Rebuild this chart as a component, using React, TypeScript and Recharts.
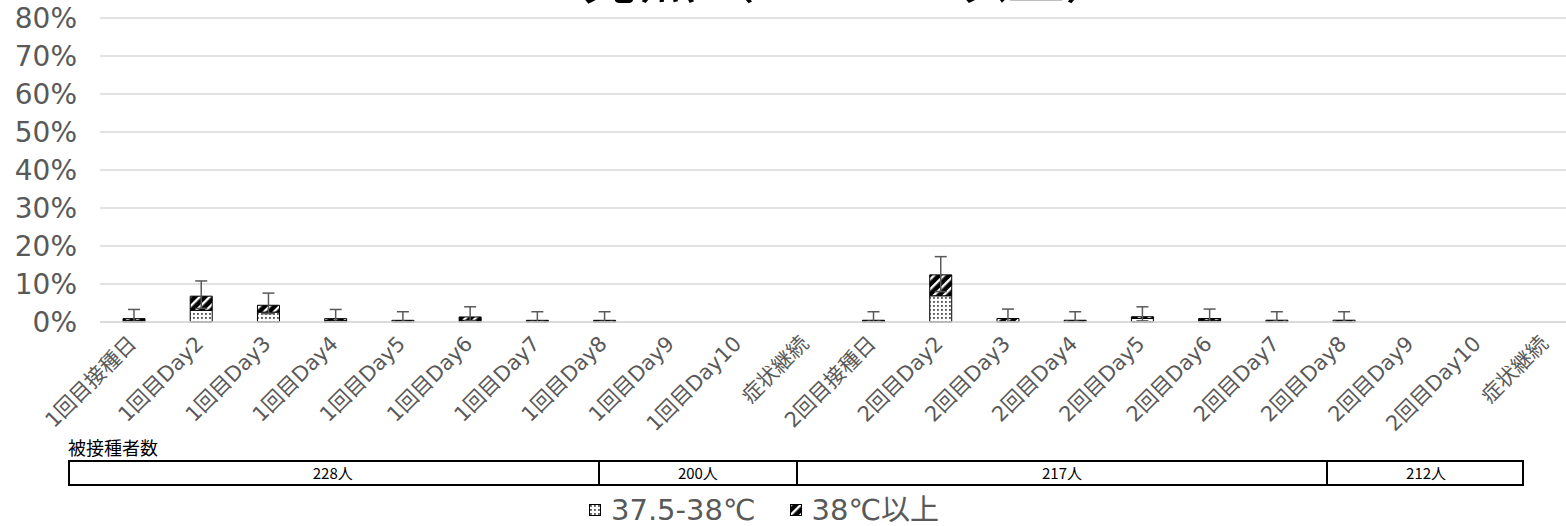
import React from "react";
import { BarChart, Bar, XAxis, YAxis, CartesianGrid, ErrorBar, Legend } from "recharts";

const categories = [
  "1回目接種日", "1回目Day2", "1回目Day3", "1回目Day4", "1回目Day5", "1回目Day6",
  "1回目Day7", "1回目Day8", "1回目Day9", "1回目Day10", "症状継続",
  "2回目接種日", "2回目Day2", "2回目Day3", "2回目Day4", "2回目Day5", "2回目Day6",
  "2回目Day7", "2回目Day8", "2回目Day9", "2回目Day10", "症状継続",
];

// 37.5-38℃ (%)
const mild = [0.44, 3.1, 2.6, 0.44, 0, 0.44, 0, 0, 0, 0, 0, 0, 6.9, 0, 0, 0.92, 0.46, 0, 0, 0, 0, 0];
// 38℃以上 (%)
const hot = [0.44, 3.7, 1.8, 0.44, 0.44, 0.88, 0.44, 0.44, 0, 0, 0, 0.46, 5.5, 0.92, 0.46, 0.46, 0.46, 0.47, 0.47, 0, 0, 0];
// 95% CI bounds (%)
const ciLow = [0.1, 3.6, 2.2, 0.1, 0, 0.3, 0, 0, 0, 0, null, 0, 8.0, 0.1, 0, 0.3, 0.1, 0, 0, 0, 0, null];
const ciHigh = [3.3, 10.8, 7.6, 3.3, 2.7, 4.0, 2.7, 2.7, 2.1, 2.1, null, 2.7, 17.2, 3.4, 2.7, 4.0, 3.4, 2.7, 2.7, 1.8, 1.8, null];

const yTicks = [0, 10, 20, 30, 40, 50, 60, 70, 80];

const cohortLabels = ["228人", "200人", "217人", "212人"];
const cohortSpans = [8, 3, 8, 3];

const data = categories.map((name, i) => {
  const total = mild[i] + hot[i];
  const lo = ciLow[i];
  const hi = ciHigh[i];
  return {
    name,
    mild: mild[i],
    hot: hot[i],
    err: hi == null || lo == null ? null : [total - lo, hi - total],
  };
});

const FONT = "'DejaVu Sans', 'Noto Sans CJK JP', sans-serif";
const GRAY = "#595959";

const XTick = ({ x, y, payload }: any) => {
  const ax = x + 4;
  const ay = y + 15;
  return (
    <text
      x={ax}
      y={ay}
      transform={`rotate(-45, ${ax}, ${ay})`}
      textAnchor="end"
      fontSize={21}
      fontFamily={FONT}
      fill={GRAY}
      style={{ WebkitFontSmoothing: "antialiased" }}
    >
      {payload.value}
    </text>
  );
};

const LegendContent = ({ payload }: any) => (
  <div style={{ display: "flex", alignItems: "center", fontFamily: FONT }}>
    {(payload || []).map((p: any, i: number) => (
      <div key={i} style={{ display: "flex", alignItems: "center", marginRight: 34 }}>
        <svg width={12} height={12} style={{ marginRight: 10 }}>
          <rect x={0.5} y={0.5} width={11} height={11} fill={i === 0 ? "url(#dots)" : "url(#hatch)"} stroke="#000" />
        </svg>
        <span style={{ fontSize: 29, color: GRAY, lineHeight: "30px" }}>{p.value}</span>
      </div>
    ))}
  </div>
);

export default function App() {
  let acc = 0;
  const unit = 66.2;
  return (
    <div style={{ position: "absolute", left: 0, top: 0, width: 1566, height: 526, overflow: "hidden", background: "#fff" }}>
      <svg width={1566} height={30} style={{ position: "absolute", left: 0, top: 0 }}>
        <text x={852} y={-2} textAnchor="middle" fontSize={58} fontFamily={FONT} fill="#000">
          発熱（37.5℃以上）
        </text>
      </svg>
      <BarChart
        width={1600}
        height={526}
        data={data}
        margin={{ top: 18, right: 21, left: 0, bottom: 0 }}
        barSize={22}
        style={{ position: "absolute", left: 0, top: 0 }}
      >
        <defs>
          <pattern id="dots" width="4" height="4" patternUnits="userSpaceOnUse">
            <rect width="4" height="4" fill="#fff" />
            <rect x="1.2" y="1.2" width="1.5" height="1.5" fill="#000" />
          </pattern>
          <pattern id="hatch" width="7" height="7" patternUnits="userSpaceOnUse" patternTransform="rotate(45)">
            <rect width="7" height="7" fill="#000" />
            <rect x="0" y="0" width="2.4" height="7" fill="#fff" />
          </pattern>
        </defs>
        <CartesianGrid vertical={false} stroke="#d9d9d9" strokeWidth={1.5} />
        <YAxis
          width={100}
          domain={[0, 80]}
          ticks={yTicks}
          tickFormatter={(v) => `${v}%`}
          axisLine={false}
          tickLine={false}
          tickMargin={17}
          tick={{ fontSize: 28, fill: GRAY, fontFamily: FONT }}
        />
        <XAxis
          dataKey="name"
          height={204}
          interval={0}
          tickLine={false}
          axisLine={{ stroke: "#d9d9d9", strokeWidth: 1.5 }}
          tick={<XTick />}
        />
        <Bar dataKey="mild" name="37.5-38℃" stackId="a" fill="url(#dots)" stroke="#000" strokeWidth={1} isAnimationActive={false} />
        <Bar dataKey="hot" name="38℃以上" stackId="a" fill="url(#hatch)" stroke="#000" strokeWidth={1} isAnimationActive={false}>
          <ErrorBar dataKey="err" width={6} stroke={GRAY} strokeWidth={1.5} direction="y" />
        </Bar>
        <Legend
          verticalAlign="middle"
          align="center"
          content={<LegendContent />}
          wrapperStyle={{ left: 589, top: 495, width: "auto", height: 30 }}
        />
      </BarChart>
      <div style={{ position: "absolute", left: 68, top: 434, fontSize: 18, fontFamily: "'Noto Sans CJK JP', sans-serif", color: "#000" }}>
        被接種者数
      </div>
      <div
        style={{
          position: "absolute",
          left: 68,
          top: 460,
          width: unit * 22,
          height: 26,
          border: "2px solid #000",
          boxSizing: "border-box",
          fontFamily: "'Noto Sans CJK JP', sans-serif",
          fontSize: 15,
          color: "#000",
        }}
      >
        {cohortLabels.map((label, i) => {
          const left = acc * unit;
          acc += cohortSpans[i];
          return (
            <div
              key={i}
              style={{
                position: "absolute",
                left: left - 2,
                top: 0,
                width: cohortSpans[i] * unit,
                height: 22,
                lineHeight: "22px",
                textAlign: "center",
                borderLeft: i === 0 ? "none" : "2px solid #000",
                boxSizing: "border-box",
              }}
            >
              {label}
            </div>
          );
        })}
      </div>
    </div>
  );
}
